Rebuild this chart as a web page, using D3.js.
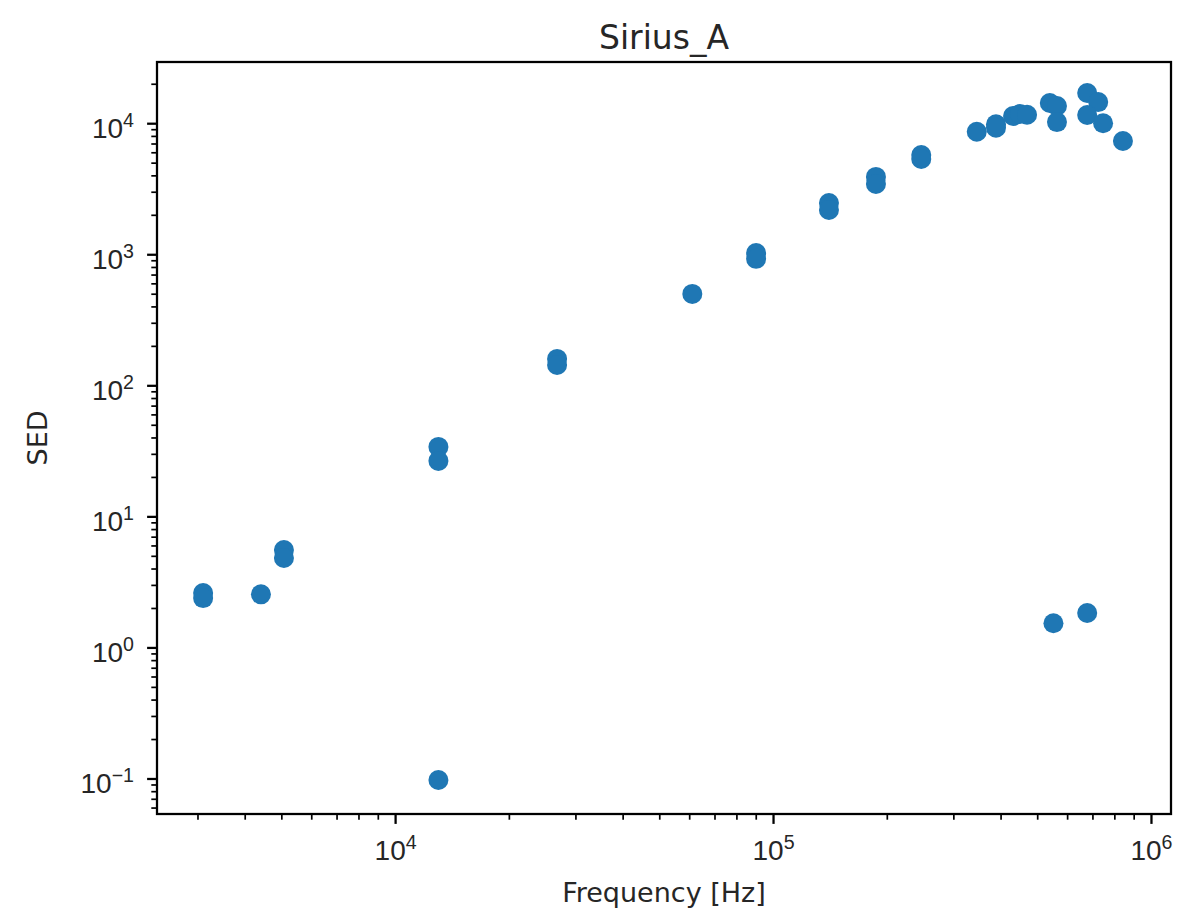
<!DOCTYPE html>
<html>
<head>
<meta charset="utf-8">
<script src="https://cdn.jsdelivr.net/npm/d3@7"></script>
<style>
  html, body { margin: 0; padding: 0; background: #ffffff; }
  svg { display: block; font-family: "DejaVu Sans", sans-serif; }
</style>
</head>
<body>
<svg id="chart" width="1203" height="911"></svg>
<script>
// ---- data ----
const title = "Sirius_A";
const xLabel = "Frequency [Hz]";
const yLabel = "SED";
const frequency = [
  3105, 3105, 4416, 5080, 5080,
  13020, 13020, 13020,
  26830, 26830,
  61150,
  90200, 90200,
  140600, 140600,
  187200, 187200,
  246700, 246700,
  346000, 389000, 389000,
  431700, 450000, 470000,
  540000, 564000, 564000,
  678000, 725000, 678000, 747000, 843000,
  552000, 678000
];
const sed = [
  2.6, 2.38, 2.54, 5.54, 4.81,
  33.9, 26.5, 0.0974,
  159, 143,
  498,
  1023, 923,
  2460, 2175,
  3890, 3440,
  5720, 5330,
  8610, 9800, 9250,
  11340, 11750, 11600,
  14250, 13520, 10200,
  17000, 14500, 11550, 10000, 7310,
  1.53, 1.83
];
const xTickExponents = [4, 5, 6];
const yTickExponents = [-1, 0, 1, 2, 3, 4];
const xDomain = [Math.pow(10, 3.37), Math.pow(10, 6.053)];
const yDomain = [Math.pow(10, -1.271), Math.pow(10, 4.467)];

// ---- layout ----
const svg = d3.select("#chart");
const pLeft = 157, pRight = 1171, pTop = 62, pBottom = 814;
const color = "#1f77b4";
const lw = 2.27;

const x = d3.scaleLog().domain(xDomain).range([pLeft, pRight]);
const y = d3.scaleLog().domain(yDomain).range([pBottom, pTop]);

function minorTicks(domain) {
  const out = [];
  const lo = Math.floor(Math.log10(domain[0])), hi = Math.ceil(Math.log10(domain[1]));
  for (let e = lo; e <= hi; e++) {
    for (let m = 2; m <= 9; m++) {
      const v = m * Math.pow(10, e);
      if (v >= domain[0] && v <= domain[1]) out.push(v);
    }
  }
  return out;
}

// points
svg.append("g")
  .selectAll("circle")
  .data(frequency.map((f, i) => ({ f, s: sed[i] })))
  .join("circle")
  .attr("cx", d => x(d.f))
  .attr("cy", d => y(d.s))
  .attr("r", 10)
  .attr("fill", color);

// x axis: minor ticks
const xMinor = svg.append("g").attr("transform", `translate(0,${pBottom})`)
  .call(d3.axisBottom(x).tickValues(minorTicks(xDomain)).tickFormat("").tickSizeInner(5.7).tickSizeOuter(0));
xMinor.select(".domain").remove();
xMinor.selectAll(".tick line").attr("stroke", "#000").attr("stroke-width", 1.7);

// x axis: major ticks
const xMajor = svg.append("g").attr("transform", `translate(0,${pBottom})`)
  .call(d3.axisBottom(x).tickValues(xTickExponents.map(e => Math.pow(10, e))).tickFormat("").tickSizeInner(9.9).tickSizeOuter(0));
xMajor.select(".domain").remove();
xMajor.selectAll(".tick line").attr("stroke", "#000").attr("stroke-width", lw);
xMajor.selectAll(".tick").each(function(d, i) {
  const t = d3.select(this).append("text")
    .attr("fill", "#262626")
    .attr("text-anchor", "middle")
    .attr("y", 46)
    .attr("x", 0)
    .style("font-size", "28px");
  t.append("tspan").text("10");
  t.append("tspan").attr("dy", -11).style("font-size", "19.6px").text(String(xTickExponents[i]));
});

// y axis: minor ticks
const yMinor = svg.append("g").attr("transform", `translate(${pLeft},0)`)
  .call(d3.axisLeft(y).tickValues(minorTicks(yDomain)).tickFormat("").tickSizeInner(5.7).tickSizeOuter(0));
yMinor.select(".domain").remove();
yMinor.selectAll(".tick line").attr("stroke", "#000").attr("stroke-width", 1.7);

// y axis: major ticks
const yMajor = svg.append("g").attr("transform", `translate(${pLeft},0)`)
  .call(d3.axisLeft(y).tickValues(yTickExponents.map(e => Math.pow(10, e))).tickFormat("").tickSizeInner(9.9).tickSizeOuter(0));
yMajor.select(".domain").remove();
yMajor.selectAll(".tick line").attr("stroke", "#000").attr("stroke-width", lw);
yMajor.selectAll(".tick").each(function(d, i) {
  const e = yTickExponents[i];
  const g = d3.select(this);
  const sup = g.append("text")
    .attr("fill", "#262626")
    .attr("text-anchor", "end")
    .attr("x", -23)
    .attr("y", 14.5 - 11)
    .style("font-size", "19.6px")
    .text(e < 0 ? "\u2212" + Math.abs(e) : String(e));
  const w = sup.node().getComputedTextLength();
  g.append("text")
    .attr("fill", "#262626")
    .attr("text-anchor", "end")
    .attr("y", 14.5)
    .attr("x", -23 - w)
    .style("font-size", "28px")
    .text("10");
});

// frame
svg.append("rect")
  .attr("x", pLeft).attr("y", pTop)
  .attr("width", pRight - pLeft).attr("height", pBottom - pTop)
  .attr("fill", "none").attr("stroke", "#000").attr("stroke-width", lw);

// title and labels
svg.append("text").attr("x", (pLeft + pRight) / 2).attr("y", 49)
  .attr("text-anchor", "middle").attr("fill", "#262626")
  .style("font-size", "33px").text(title);
svg.append("text").attr("x", (pLeft + pRight) / 2).attr("y", 902)
  .attr("text-anchor", "middle").attr("fill", "#262626")
  .style("font-size", "27px").text(xLabel);
svg.append("text")
  .attr("transform", `translate(47,${(pTop + pBottom) / 2}) rotate(-90)`)
  .attr("text-anchor", "middle").attr("fill", "#262626")
  .style("font-size", "27px").text(yLabel);
</script>
</body>
</html>
